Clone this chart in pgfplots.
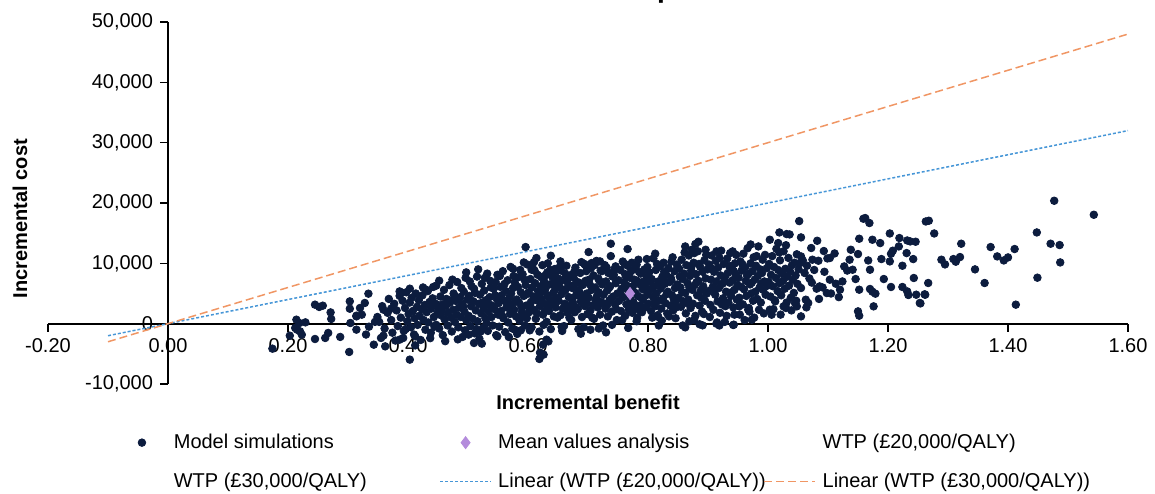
\documentclass[border=0pt]{standalone}
\usepackage{fontspec}
\setmainfont{Liberation Sans}
\usepackage{pgfplots}
\pgfplotsset{compat=1.18}
\definecolor{navy}{RGB}{12,28,62}
\definecolor{lav}{RGB}{180,140,220}
\definecolor{wtpblue}{RGB}{70,150,215}
\definecolor{wtporange}{RGB}{240,150,100}
\pgfplotsset{
 dotleg/.style={legend image code/.code={\path[draw=none, fill=none] (0pt,3pt) -- (25.5pt,3pt); \draw[##1, only marks] plot coordinates {(12.75pt,3pt)};}},
 lineleg/.style={legend image code/.code={\draw[##1] (0pt,3pt) -- (25.5pt,3pt);}},
}
\begin{document}
\begin{tikzpicture}
\begin{axis}[name=ax, scale only axis, width=540pt, height=181pt,
 xmin=-0.2, xmax=1.6, ymin=-10000, ymax=50000, enlargelimits=false,
 axis lines=center, axis line style={-, line width=0.9pt, black},
 hide obscured x ticks=false, hide obscured y ticks=false,
 xtick={-0.2,0,0.2,0.4,0.6,0.8,1.0,1.2,1.4,1.6},
 ytick={-10000,0,10000,20000,30000,40000,50000},
 tick align=outside, major tick length=4pt, tick style={black, line width=0.8pt},
 x tick label style={/pgf/number format/.cd, fixed, fixed zerofill, precision=2, assume math mode=true},
 y tick label style={/pgf/number format/.cd, 1000 sep={,}, assume math mode=true},
 scaled y ticks=false, scaled x ticks=false,
 xlabel={\bfseries Incremental benefit}, ylabel={\bfseries Incremental cost},
 every axis x label/.style={at={(axis description cs:0.5,-0.051)}, anchor=center},
 every axis y label/.style={at={(axis description cs:-0.026,0.457)}, anchor=center, rotate=90},
 legend columns=3,
 legend style={at={(0.063,-0.136)}, anchor=north west, draw=none, fill=none, inner sep=0pt,
   column sep=0pt, row sep=9.8pt, nodes={inner sep=0pt, text height=7.5pt, text depth=2.2pt, anchor=base west}},
]
\addplot[only marks, mark=*, mark size=1.9pt, draw=navy, fill=navy, dotleg]
coordinates {
(0.214,660) (0.219,110) (0.212,-710) (0.215,-990) (0.220,-1270) (0.203,-1990) (0.223,-1820) (0.229,220) (0.245,3150) (0.252,2770) (0.258,2980) (0.245,-2540) (0.262,-2370) (0.267,-1540) (0.271,1870) (0.272,780) (0.287,-2200) (0.302,-4690) (0.303,3700) (0.303,2480) (0.304,110) (0.314,1320) (0.174,-4140)
(0.596,12700) (0.593,10150) (0.614,10880) (0.606,8940) (0.497,8500) (0.452,7120) (0.403,5800) (0.430,5630) (0.442,6080) (0.386,5350) (0.389,5180) (0.334,4970) (0.328,3430) (0.314,1210) (0.323,1490) (0.359,2320) (0.349,1110) (0.343,-3480) (0.359,-1990) (0.355,-2370) (0.362,-3760) (0.386,-2650) (0.392,-2370) (0.403,-5960) (0.412,-2100) (0.314,-990) (0.501,-1820) (0.510,-3200) (0.523,-3310) (0.549,-2100) (0.578,-990) (0.619,-5850) (0.626,-5130) (0.634,-2930)
(0.320,2600) (0.335,-500) (0.345,300) (0.330,-1800)
(0.738,13250) (0.766,12370) (0.701,11870) (0.638,11260) (0.654,10320) (0.884,13580) (0.873,12250) (0.877,11700) (0.896,12250) (0.914,11980) (0.941,11980) (0.798,10710) (0.781,9770) (0.720,10320) (0.706,10050) (0.695,9770) (0.645,9060) (0.628,7950) (0.782,940) (0.767,-710) (0.730,-1440) (0.688,-1660) (0.656,-550) (0.862,-610) (0.891,-280) (0.914,0) (0.942,-220) (0.817,1110) (0.631,-2650) (0.625,-3480) (0.620,-4800)
(1.052,17000) (1.019,15120) (1.031,14850) (1.036,14790) (1.055,14300) (1.003,13910) (1.017,13360) (1.082,13740) (0.971,13130) (1.019,11810) (0.941,11870) (1.072,12540) (1.093,12040) (1.111,11640) (1.103,10880) (1.099,10810) (1.055,11150) (1.058,10480) (1.053,10050) (1.074,10600) (1.084,10430) (1.138,12250) (1.152,14080) (1.159,17390) (1.162,17500) (1.169,16680) (1.174,13910) (1.187,13360) (1.203,14950) (1.219,14190) (1.218,12800) (1.232,13790) (1.237,13630) (1.246,13580) (1.208,12090) (1.205,11590) (1.203,10320) (1.189,10710) (1.231,11700) (1.242,10710) (1.224,9600) (1.263,16940) (1.150,11540) (1.167,10480) (1.170,8940) (1.136,10600) (1.141,8940) (1.127,9490) (1.193,7400) (1.243,7570) (1.205,6080) (1.224,6080) (1.232,5350) (1.234,4750) (1.247,4800) (1.262,4800) (1.253,3430) (1.152,5630) (1.170,5750) (1.174,5300) (1.179,4970) (1.176,2870) (1.150,2040) (1.152,1320) (1.103,7290) (1.113,6620) (1.120,5630) (1.086,6180) (1.098,5080) (1.055,5910) (1.055,1210) (1.063,3970) (1.067,3430) (1.045,3430) (1.048,2870) (1.026,2870) (1.030,2600) (1.003,2320) (1.006,1490) (1.012,3700) (0.973,660) (0.967,2320) (0.943,-170) (0.952,2870)
(1.268,17060) (1.277,14950) (1.267,6740) (1.261,4860) (1.254,3360) (1.289,10600) (1.295,9820) (1.309,10710) (1.313,10270) (1.320,11040) (1.322,13250) (1.345,9000) (1.361,6740) (1.371,12700) (1.382,11150) (1.393,10480) (1.400,10980) (1.411,12370) (1.413,3150) (1.448,15120) (1.449,7620) (1.471,13250) (1.477,20370) (1.486,13030) (1.487,10150) (1.543,18050)
(0.352,300) (0.357,2900) (0.361,-800) (0.366,1800) (0.368,4100) (0.372,600) (0.374,-1500) (0.377,3300) (0.381,2200) (0.383,-400) (0.386,4600) (0.388,1000) (0.391,3800) (0.393,-1200) (0.395,2600) (0.397,5200) (0.399,400) (0.372,2500) (0.379,-2800) (0.396,-900)
(0.401,1600) (0.403,3500) (0.405,-600) (0.406,4300) (0.408,2100) (0.410,-1800) (0.411,900) (0.413,5000) (0.415,2800) (0.416,-200) (0.418,3900) (0.419,1300) (0.421,-2700) (0.423,2400) (0.424,4700) (0.426,600) (0.428,3100) (0.429,-1000) (0.431,1900) (0.433,5400) (0.434,200) (0.436,3600) (0.438,-1500) (0.439,2500) (0.441,4200) (0.443,1100) (0.444,-500) (0.446,3300) (0.447,6300) (0.449,1700) (0.412,-3600) (0.437,-2400) (0.425,6000) (0.447,-200)
(0.451,2600) (0.452,-800) (0.454,4500) (0.455,1400) (0.457,3200) (0.458,-1900) (0.460,5600) (0.461,700) (0.463,2900) (0.464,4100) (0.466,-300) (0.467,1800) (0.469,6400) (0.470,3500) (0.472,1000) (0.473,-1300) (0.475,2300) (0.476,5000) (0.478,300) (0.479,3800) (0.481,1500) (0.482,6900) (0.484,-600) (0.485,2700) (0.487,4400) (0.488,1100) (0.490,3300) (0.491,-2200) (0.493,5300) (0.494,2000) (0.496,7600) (0.497,600) (0.499,4000) (0.456,2100) (0.468,3900) (0.474,7300) (0.483,-2600) (0.489,5900) (0.495,-1100) (0.462,-2900) (0.477,4700) (0.492,2900)
(0.501,1300) (0.502,4600) (0.504,-400) (0.505,2900) (0.506,6200) (0.508,800) (0.509,3700) (0.511,-1600) (0.512,5100) (0.513,2200) (0.515,7800) (0.516,400) (0.518,3300) (0.519,-2500) (0.520,4800) (0.522,1700) (0.523,6600) (0.525,-700) (0.526,2600) (0.527,5500) (0.529,900) (0.530,3900) (0.532,8300) (0.533,-1200) (0.534,2000) (0.536,4400) (0.537,7100) (0.539,1100) (0.540,3000) (0.541,-300) (0.543,5800) (0.544,2400) (0.546,6900) (0.547,-1900) (0.548,4100) (0.550,1500) (0.503,7000) (0.510,5800) (0.517,9000) (0.524,3500) (0.531,100) (0.538,6000) (0.545,4700) (0.514,-900) (0.528,7600) (0.535,3200) (0.549,8100) (0.521,-1300)
(0.551,3400) (0.552,-500) (0.554,6100) (0.555,2100) (0.556,4700) (0.558,8700) (0.559,900) (0.560,3800) (0.562,-1400) (0.563,5400) (0.564,2700) (0.566,7200) (0.567,200) (0.569,4300) (0.570,1600) (0.571,9400) (0.573,3100) (0.574,-800) (0.575,5900) (0.577,2300) (0.578,6800) (0.580,1200) (0.581,4000) (0.582,-1700) (0.584,7700) (0.585,3500) (0.586,500) (0.588,5200) (0.589,2800) (0.591,8200) (0.592,1400) (0.593,4600) (0.595,-300) (0.596,6400) (0.597,3000) (0.599,9800) (0.553,7900) (0.557,1300) (0.561,6600) (0.565,3600) (0.568,-2200) (0.572,5000) (0.576,7900) (0.579,3700) (0.583,6100) (0.587,8900) (0.590,2000) (0.594,7300) (0.598,4900) (0.556,4100) (0.575,9100) (0.588,-1100) (0.598,900) (0.571,2600)
(0.601,5200) (0.602,1900) (0.604,7400) (0.605,3600) (0.606,-600) (0.608,9200) (0.609,4500) (0.610,2300) (0.612,6700) (0.613,800) (0.614,3900) (0.616,8100) (0.617,5400) (0.619,-1300) (0.620,2900) (0.621,6200) (0.623,4100) (0.624,9700) (0.625,1500) (0.627,7000) (0.628,3300) (0.629,5800) (0.631,300) (0.632,8500) (0.633,4700) (0.635,2100) (0.636,6500) (0.638,-900) (0.639,3700) (0.640,7800) (0.642,5100) (0.643,1200) (0.644,9000) (0.646,2700) (0.647,6000) (0.648,4300) (0.650,7500) (0.603,3000) (0.607,6000) (0.611,8800) (0.615,1700) (0.618,4900) (0.622,7700) (0.626,-200) (0.630,6400) (0.634,2600) (0.637,8900) (0.641,3400) (0.645,5600) (0.649,1000) (0.610,10200) (0.633,10000) (0.646,8600) (0.624,5300) (0.637,4000) (0.615,4600) (0.643,6900) (0.628,2100) (0.603,-1100)
(0.651,3800) (0.652,6600) (0.654,1400) (0.655,8800) (0.656,4900) (0.658,2500) (0.659,7300) (0.660,-400) (0.662,5500) (0.663,3100) (0.664,9600) (0.666,1800) (0.667,6200) (0.668,4400) (0.670,8000) (0.671,2800) (0.672,600) (0.674,5900) (0.675,3500) (0.676,7600) (0.678,1900) (0.679,9300) (0.680,4700) (0.682,6900) (0.683,2400) (0.684,-900) (0.686,5200) (0.687,8400) (0.688,3700) (0.690,1100) (0.691,6400) (0.692,4100) (0.694,9900) (0.695,2900) (0.696,7100) (0.698,5000) (0.699,1600) (0.653,9400) (0.657,5700) (0.661,3300) (0.665,7000) (0.669,1000) (0.673,4000) (0.677,8600) (0.681,2700) (0.685,6800) (0.689,10200) (0.693,3200) (0.697,8700) (0.662,8300) (0.675,6300) (0.690,4600) (0.668,2300) (0.683,5600) (0.698,3400) (0.657,-1200) (0.693,-600)
(0.701,4300) (0.702,7300) (0.704,2200) (0.705,9200) (0.706,5600) (0.708,3000) (0.709,8000) (0.710,800) (0.712,6000) (0.713,4100) (0.714,10400) (0.716,2700) (0.717,7500) (0.718,5200) (0.720,1500) (0.721,8800) (0.722,3600) (0.724,6500) (0.725,-300) (0.726,4800) (0.728,9700) (0.729,2500) (0.730,7000) (0.732,5500) (0.733,1200) (0.734,8400) (0.736,3900) (0.737,6200) (0.738,11200) (0.740,2000) (0.741,7800) (0.742,4500) (0.744,9000) (0.745,3200) (0.746,6700) (0.748,600) (0.749,5000) (0.703,6500) (0.707,1000) (0.711,9700) (0.715,4600) (0.719,7100) (0.723,8700) (0.727,3300) (0.731,9300) (0.735,5900) (0.739,4200) (0.743,8100) (0.747,2400) (0.704,-1000) (0.718,-800) (0.740,-200) (0.712,3400) (0.732,3100) (0.746,9500)
(0.751,7200) (0.752,3800) (0.754,8900) (0.755,2100) (0.756,5800) (0.758,10300) (0.759,4400) (0.760,6900) (0.762,1300) (0.763,7900) (0.764,3200) (0.766,9600) (0.767,5400) (0.768,2300) (0.770,7600) (0.771,4000) (0.772,8700) (0.774,1800) (0.775,6200) (0.776,3500) (0.778,9200) (0.779,5100) (0.780,2600) (0.782,7100) (0.783,4600) (0.784,10600) (0.786,3000) (0.787,6500) (0.788,8300) (0.790,1900) (0.791,5700) (0.792,3900) (0.794,9000) (0.795,6300) (0.796,2700) (0.798,7800) (0.799,4800) (0.753,5100) (0.757,600) (0.761,9900) (0.765,6300) (0.769,3000) (0.773,5900) (0.777,7300) (0.781,400) (0.785,8600) (0.789,4300) (0.793,7000) (0.797,5500) (0.762,8200) (0.773,10100) (0.787,2000) (0.799,9400)
(0.801,3300) (0.802,8500) (0.804,5600) (0.805,2100) (0.806,7400) (0.808,4500) (0.809,10800) (0.810,6200) (0.812,2900) (0.813,8900) (0.814,5000) (0.816,1400) (0.817,7000) (0.818,3800) (0.820,9500) (0.821,5800) (0.822,2500) (0.824,7800) (0.825,4200) (0.826,10100) (0.828,6600) (0.829,3400) (0.830,8200) (0.832,1700) (0.833,5300) (0.834,9200) (0.836,6900) (0.837,3000) (0.838,7600) (0.840,4700) (0.841,11000) (0.842,2200) (0.844,8700) (0.845,5900) (0.846,3600) (0.848,9800) (0.849,6500) (0.803,6900) (0.807,1000) (0.811,4000) (0.815,9900) (0.819,6700) (0.823,500) (0.827,8600) (0.831,4900) (0.835,1200) (0.839,7200) (0.843,4000) (0.847,2700) (0.812,11600) (0.826,7300) (0.839,10300) (0.818,-300) (0.846,900)
(0.851,4300) (0.852,9100) (0.854,6000) (0.855,2800) (0.856,10600) (0.858,7400) (0.859,3700) (0.860,8300) (0.862,5100) (0.863,1700) (0.864,9700) (0.866,6700) (0.867,4000) (0.868,11300) (0.870,7900) (0.871,2600) (0.872,8800) (0.874,5600) (0.875,3300) (0.876,10100) (0.878,6400) (0.879,1300) (0.880,8200) (0.882,4700) (0.883,12000) (0.884,7100) (0.886,3000) (0.887,9400) (0.888,5500) (0.890,2000) (0.891,8600) (0.892,6200) (0.894,10500) (0.895,3800) (0.896,7500) (0.898,5000) (0.899,9000) (0.853,7800) (0.857,5200) (0.861,11800) (0.865,3400) (0.869,6000) (0.873,9600) (0.877,600) (0.881,6900) (0.885,9900) (0.889,4300) (0.893,1600) (0.897,11400) (0.858,-300) (0.869,400) (0.886,-100) (0.862,12800) (0.879,13200)
(0.901,5400) (0.902,9800) (0.904,3100) (0.905,7300) (0.906,11300) (0.908,6100) (0.909,2300) (0.910,8600) (0.912,4800) (0.913,10400) (0.914,7000) (0.916,3700) (0.917,9300) (0.918,5900) (0.920,1800) (0.921,8000) (0.922,12100) (0.924,6600) (0.925,4200) (0.926,9900) (0.928,7700) (0.929,2900) (0.930,5300) (0.932,10800) (0.933,8400) (0.934,3500) (0.936,6800) (0.937,11700) (0.938,4600) (0.940,9100) (0.941,7200) (0.942,2700) (0.944,5600) (0.945,10000) (0.946,8100) (0.948,4000) (0.949,6400) (0.903,1100) (0.907,9100) (0.911,5600) (0.915,200) (0.919,10900) (0.923,3200) (0.927,7000) (0.931,1300) (0.935,9600) (0.939,5200) (0.943,8700) (0.947,11400) (0.919,-300) (0.928,300) (0.944,1500)
(0.951,7600) (0.952,4300) (0.954,10300) (0.955,6100) (0.956,8800) (0.958,3200) (0.959,11600) (0.960,5700) (0.962,9300) (0.963,7100) (0.964,4600) (0.966,12500) (0.967,8200) (0.968,2600) (0.970,6500) (0.971,10000) (0.972,5000) (0.974,8700) (0.975,3800) (0.976,11000) (0.978,7300) (0.979,5300) (0.980,9600) (0.982,4100) (0.983,7900) (0.984,12800) (0.986,6000) (0.987,9000) (0.988,3500) (0.990,8400) (0.991,10600) (0.992,5600) (0.994,7000) (0.995,11400) (0.996,4800) (0.998,9200) (0.999,6300) (0.953,1500) (0.961,600) (0.969,2000) (0.977,1000) (0.985,2300) (0.993,1700) (0.957,9900) (0.973,6800) (0.989,6700) (0.965,8000) (0.981,11200)
(1.001,6900) (1.002,9900) (1.004,4500) (1.005,8100) (1.007,11200) (1.008,6200) (1.010,9400) (1.011,3900) (1.013,7600) (1.014,12400) (1.016,5400) (1.017,8900) (1.019,6700) (1.020,10500) (1.022,4700) (1.023,8300) (1.025,7100) (1.026,12000) (1.028,5800) (1.029,9100) (1.031,3500) (1.032,7800) (1.034,10900) (1.035,6300) (1.037,8600) (1.038,4300) (1.040,9700) (1.041,7300) (1.043,5100) (1.044,10100) (1.046,8000) (1.047,3800) (1.049,6600) (1.009,2400) (1.021,1500) (1.039,2200) (1.048,11500) (1.030,13000)
(1.051,9000) (1.057,10200) (1.061,8400) (1.065,9600) (1.069,7500) (1.073,6800) (1.077,8900) (1.081,5800) (1.085,4100) (1.091,6000) (1.094,8600) (1.064,2700)
(1.105,5000) (1.118,4400) (1.124,7000) (1.132,8800) (1.146,7400)
};
\addlegendentry{\makebox[135.95pt][l]{\hspace{3.2pt}Model simulations}}
\addplot[only marks, mark=diamond*, mark size=3pt, draw=lav, fill=lav, dotleg]
coordinates {(0.77,5000)};
\addlegendentry{\makebox[135.95pt][l]{\hspace{3.2pt}Mean values analysis}}
\addlegendimage{empty legend}
\addlegendentry{\makebox[135.95pt][l]{\hspace{3.2pt}WTP (£20,000/QALY)}}
\addlegendimage{empty legend}
\addlegendentry{\makebox[135.95pt][l]{\hspace{3.2pt}WTP (£30,000/QALY)}}
\addplot[wtpblue, line width=0.75pt, dash pattern=on 1.5pt off 1pt, lineleg]
coordinates {(-0.1,-2000) (1.6,32000)};
\addlegendentry{\makebox[135.95pt][l]{\hspace{3.2pt}Linear (WTP (£20,000/QALY))}}
\addplot[wtporange, line width=0.75pt, dash pattern=on 4pt off 2pt, lineleg]
coordinates {(-0.1,-3000) (1.6,48000)};
\addlegendentry{\makebox[135.95pt][l]{\hspace{3.2pt}Linear (WTP (£30,000/QALY))}}
\end{axis}
\node[anchor=base west, font=\bfseries\fontsize{14}{16}\selectfont] at ([shift={(301pt,193.44pt)}]ax.south west) {\llap{Cost-effectiveness }plane};
\pgfresetboundingbox
\path[use as bounding box] ([shift={(-24pt,-54.5pt)}]ax.south west) rectangle ([shift={(553.5pt,192pt)}]ax.south west);
\end{tikzpicture}
\end{document}
